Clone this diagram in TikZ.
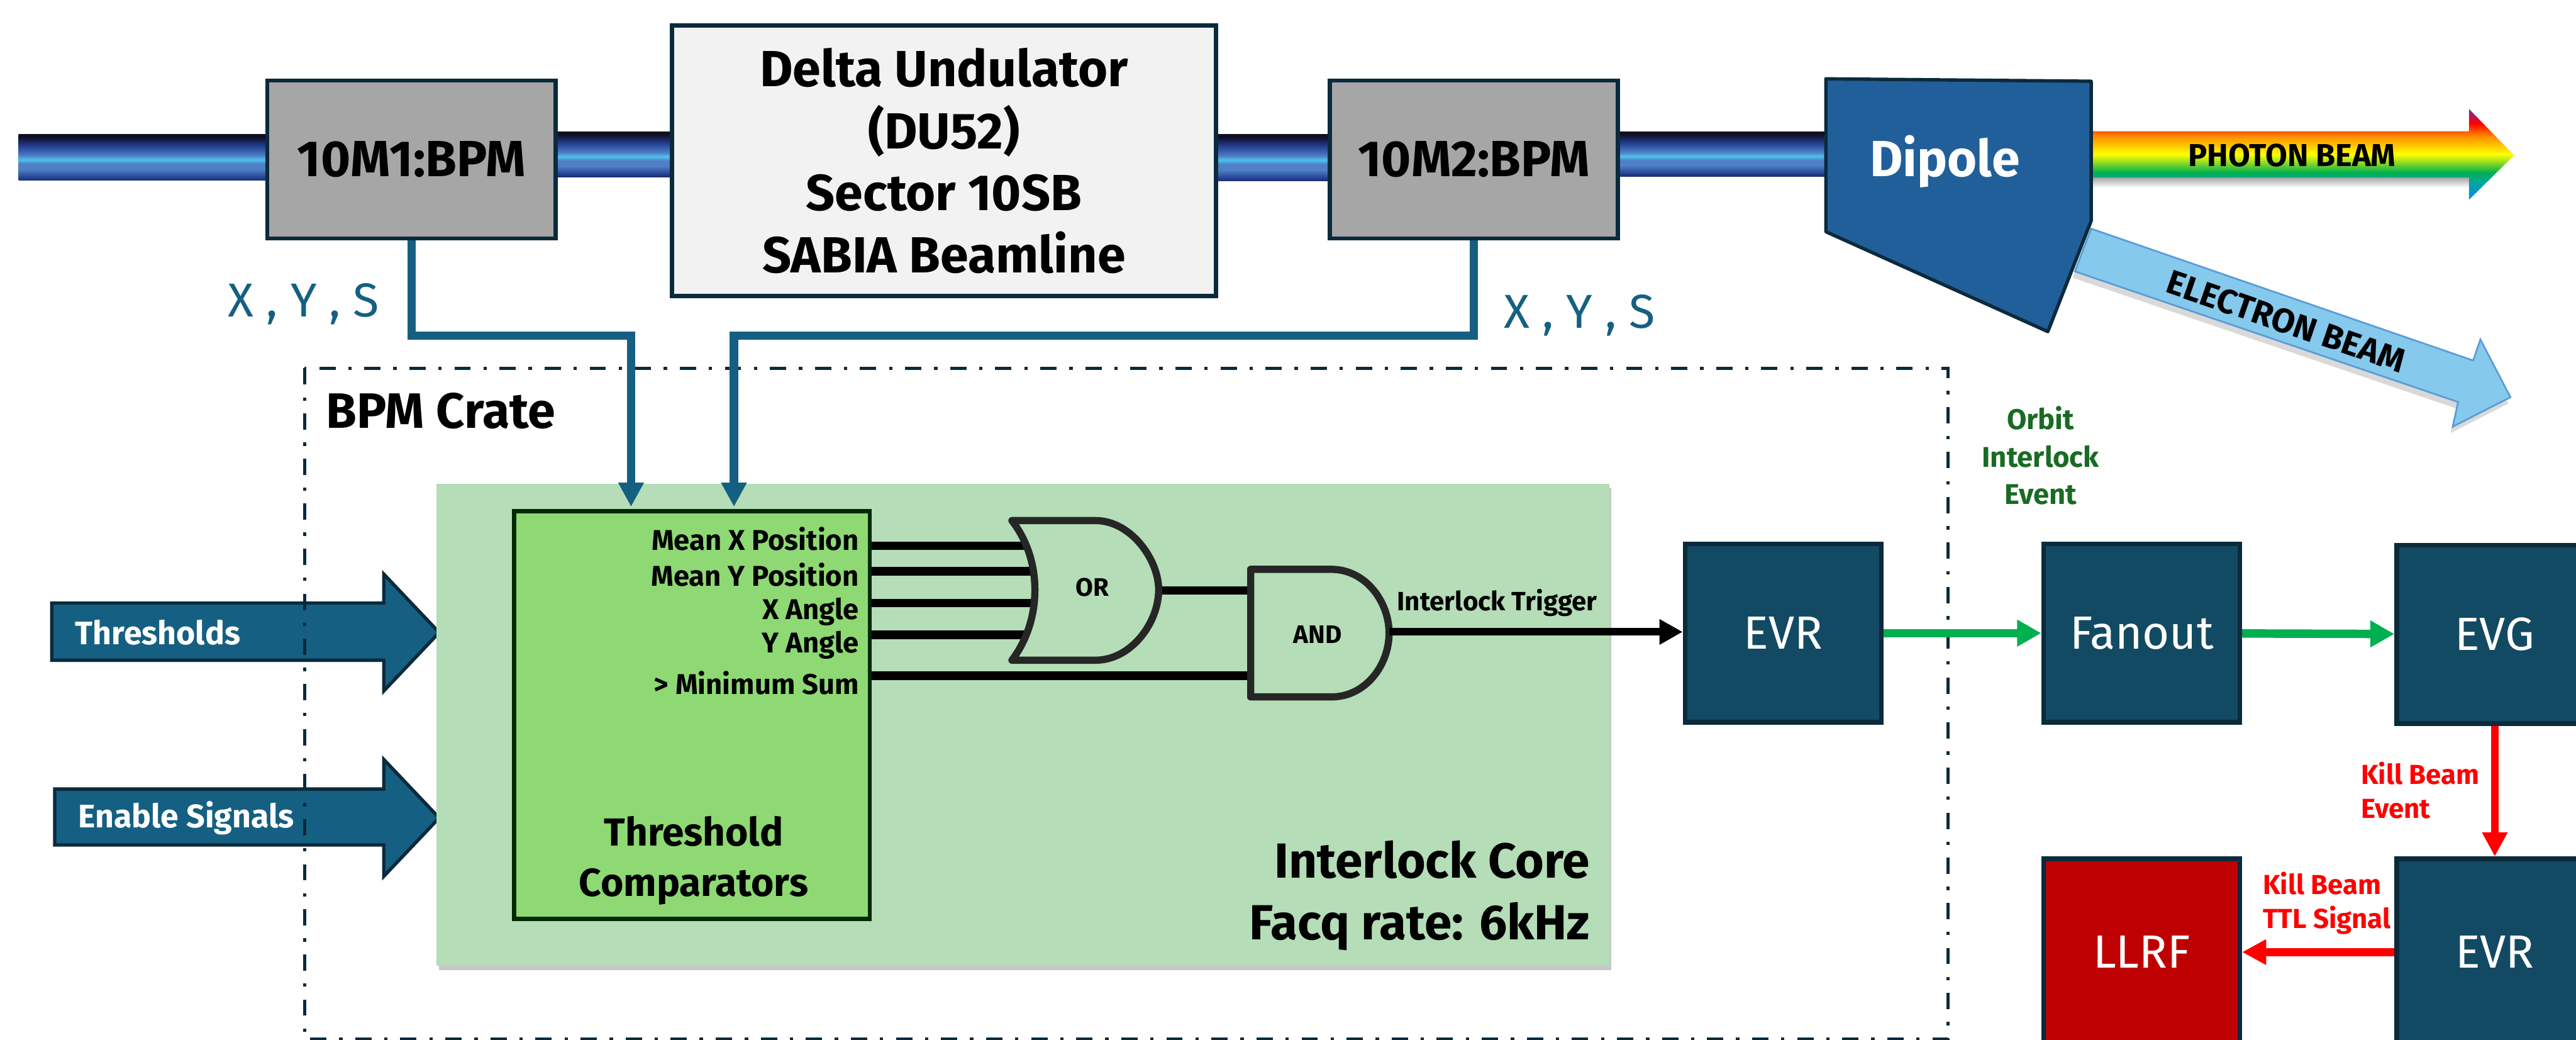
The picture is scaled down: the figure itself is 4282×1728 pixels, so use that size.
\documentclass[tikz,border=0pt]{standalone}
\usepackage{fontspec}
\setmainfont{Fira Sans}
\usetikzlibrary{
  calc,
  arrows.meta,
  positioning,
  shadows,
}
\definecolor{boxedge}{HTML}{0B2A3C}
\definecolor{boxblue}{HTML}{134A63}
\definecolor{sigblue}{HTML}{156082}
\definecolor{panelgreen}{HTML}{B5DDB7}
\definecolor{cmpgreen}{HTML}{8ED973}
\definecolor{eventgreen}{HTML}{00B050}
\definecolor{labelgreen}{HTML}{196B24}
\definecolor{dipoleblue}{HTML}{215F9A}
\definecolor{ebeam}{HTML}{85C9EC}
\definecolor{ebeamedge}{HTML}{5B9BD5}
\definecolor{beama}{HTML}{0F1020}
\definecolor{beamb}{HTML}{1B2C6E}
\definecolor{beamc}{HTML}{2B4C9F}
\definecolor{beamd}{HTML}{4F7FC4}
\definecolor{beame}{HTML}{4CC3F0}
\definecolor{rbviolet}{HTML}{7030A0}
\definecolor{rbred}{HTML}{FF0000}
\definecolor{rborange}{HTML}{FF8C00}
\definecolor{rbyellow}{HTML}{FFFF00}
\definecolor{rbgreen}{HTML}{00B050}
\definecolor{rbteal}{HTML}{00A89A}
\definecolor{rbblue}{HTML}{0090E0}
\pgfdeclareverticalshading{beamshade}{100bp}{
  color(0bp)=(beamb); color(25bp)=(beamb);
  color(30bp)=(beamc); color(37bp)=(beamd); color(43bp)=(beamd);
  color(47.5bp)=(beame); color(52bp)=(beamd); color(60bp)=(beamc);
  color(66bp)=(beamb); color(72bp)=(beama); color(100bp)=(beama)}
\pgfdeclareverticalshading{rainbowshade}{100bp}{
  color(0bp)=(rbblue); color(28bp)=(rbblue);
  color(35bp)=(rbteal); color(40bp)=(rbgreen);
  color(50bp)=(rbyellow); color(60bp)=(rborange);
  color(67bp)=(rbred); color(75bp)=(rbviolet); color(100bp)=(rbviolet)}
\tikzset{
  bpmbox/.style = {draw=boxedge, line width=2pt, fill=black!35,
      minimum width=4.79cm, minimum height=2.62cm,
      font=\fontsize{24}{29}\selectfont\bfseries},
  evbox/.style = {draw=boxedge, line width=2.2pt, fill=boxblue, text=white,
      minimum width=3.26cm, minimum height=2.96cm,
      font=\fontsize{22}{26}\selectfont},
  sig/.style = {draw=sigblue, line width=4pt,
      -{Triangle[length=11.4pt,width=11.4pt]}},
  gate/.style = {draw=black!85, line width=3.4pt, fill=panelgreen, line join=round},
  wire/.style = {draw=black, line width=4pt},
  inarrow/.style = {draw=boxedge, line width=1.6pt, fill=sigblue},
  xys/.style = {text=sigblue, font=\fontsize{22.5}{28}\selectfont},
  cmplabel/.style = {anchor=east, font=\fontsize{13.5}{16}\selectfont\bfseries},
  evarrow/.style = {draw=eventgreen, line width=4pt,
      -{Triangle[length=11.4pt,width=12pt]}},
  killarrow/.style = {draw=red, line width=3.8pt,
      -{Triangle[length=11.4pt,width=11.4pt]}},
  killlabel/.style = {text=red, anchor=west, align=left,
      font=\fontsize{13}{16}\selectfont\bfseries},
}

\begin{document}
\begin{tikzpicture}[x=0.01cm, y=-0.01cm]
  \path[use as bounding box, clip] (0,0) rectangle (4282,1728);

  % beam pipe
  \shade[shading=beamshade] (31,223) rectangle (445,300);
  \shade[shading=beamshade] (925,219) rectangle (1120,294);
  \shade[shading=beamshade] (2023,223) rectangle (2210,301);
  \shade[shading=beamshade] (2690,219) rectangle (3038,293);

  \node[bpmbox] (bpma) at (684,265) {10M1:BPM};
  \node[bpmbox] (bpmb) at (2450,265) {10M2:BPM};
  \node[draw=boxedge, line width=2pt, fill=black!5, minimum width=9.04cm,
    minimum height=4.49cm, align=center,
    font=\fontsize{24}{29.3}\selectfont\bfseries] (undulator) at (1569,267)
    {Delta Undulator\\(DU52)\\Sector 10SB\\SABIA Beamline};

  % outgoing beams
  \draw[draw=ebeamedge, line width=.8pt, fill=ebeam,
    drop shadow={shadow xshift=-1pt, shadow yshift=-3pt, opacity=.3}]
    (3476,380) -- (4111,599) -- (4123,564) -- (4173,660)
    -- (4077,709) -- (4086,668) -- (3449,451) -- cycle;
  \node[rotate=-19, font=\fontsize{16}{19}\selectfont\bfseries] (ebeamtext)
    at (3800,534) {ELECTRON BEAM};
  \shade[top color=black!35, bottom color=white] (3476,295) rectangle (4104,312);
  \shade[shading=rainbowshade] (3476,218) -- (4104,218) -- (4104,181) -- (4179,258)
    -- (4104,332) -- (4104,295) -- (3476,295) -- cycle;
  \node[font=\fontsize{15}{18}\selectfont\bfseries] (pbeamtext) at (3810,258) {PHOTON BEAM};

  \draw[draw=boxedge, line width=1.6pt, fill=dipoleblue, line join=round]
    (3035,131) -- (3476,135) -- (3476,367) -- (3404,551) -- (3035,385) -- cycle;
  \node[text=white, font=\fontsize{24}{28}\selectfont\bfseries] (dipole) at (3233,268) {Dipole};

  % inputs from the left
  \draw[inarrow] (86,1002) -- (638,1002) -- (638,954) -- (730,1051) -- (638,1148)
    -- (638,1097) -- (86,1097) -- cycle;
  \draw[inarrow] (91,1311) -- (638,1311) -- (638,1262) -- (730,1359) -- (638,1456)
    -- (638,1404) -- (91,1404) -- cycle;
  \node[text=white, anchor=west, font=\fontsize{15.4}{19}\selectfont\bfseries] (thr)
    at (113,1051) {Thresholds};
  \node[text=white, anchor=west, font=\fontsize{15.4}{19}\selectfont\bfseries] (ena)
    at (118,1359) {Enable Signals};

  % crate
  \draw[boxedge, line width=1.5pt, dash pattern=on 7.7pt off 6pt on 1.6pt off 6pt]
    (506,612) rectangle (3238,1726);
  \node[anchor=west, font=\fontsize{23.5}{26}\selectfont\bfseries] (crate) at (530,683) {BPM Crate};

  % interlock core
  \fill[panelgreen, drop shadow={shadow xshift=1pt, shadow yshift=-2pt, opacity=.45}]
    (726,804) rectangle (2675,1605);
  \node[anchor=east, align=right, font=\fontsize{23.3}{29.3}\selectfont\bfseries] (core)
    at (2655,1488) {Interlock Core\\Facq rate: 6kHz};

  \node[draw=black!60!green!40!black, line width=2pt, fill=cmpgreen, minimum width=5.91cm,
    minimum height=6.77cm] (cmp) at (1150,1188) {};
  \node[align=center, font=\fontsize{18.5}{23.6}\selectfont\bfseries] (cmptext)
    at (1153,1430) {Threshold\\Comparators};
  \node[cmplabel] (mx) at (1440,895) {Mean X Position};
  \node[cmplabel] (my) at (1440,955) {Mean Y Position};
  \node[cmplabel] (xa) at (1440,1016) {X Angle};
  \node[cmplabel] (ya) at (1440,1072) {Y Angle};
  \node[cmplabel] (ms) at (1440,1135) {> Minimum Sum};

  \coordinate (ina) at (1049,842);
  \coordinate (inb) at (1220,842);
  \draw[sig] (bpma.south) -- ++(0,158) -| (ina);
  \draw[sig] (bpmb.south) -- ++(0,158) -| (inb);

  \node[xys] (xysa) at (505,505) {X , Y , S};
  \node[xys] (xysb) at (2626,524) {X , Y , S};

  % logic
  \coordinate (ora) at (1715,907);
  \coordinate (orb) at (1725,949);
  \coordinate (orc) at (1725,1002);
  \coordinate (ord) at (1715,1055);
  \coordinate (orout) at (1926,981);
  \coordinate (anda) at (2085,981);
  \coordinate (andb) at (2085,1123);
  \coordinate (andout) at (2309,1050);
  \foreach \w in {ora,orb,orc,ord}
    \draw[wire] (cmp.east |- \w) -- (\w);
  \draw[wire] (orout) -- (anda);
  \draw[wire] (cmp.east |- andb) -- (andb);

  \draw[gate] (1682,865) -- (1821,865) .. controls (1880,865) and (1926,930) .. (1926,980)
    .. controls (1926,1035) and (1880,1097) .. (1821,1097) -- (1682,1097)
    .. controls (1733,1030) and (1733,930) .. (1682,865) -- cycle;
  \draw[gate] (2079,946) -- (2213,946) .. controls (2270,946) and (2309,1000) .. (2309,1052)
    .. controls (2309,1105) and (2270,1158) .. (2213,1158) -- (2079,1158) -- cycle;
  \node[font=\fontsize{12}{14}\selectfont\bfseries] (orgate) at (1816,976) {OR};
  \node[font=\fontsize{12}{14}\selectfont\bfseries] (andgate) at (2190,1054) {AND};
  \node[anchor=west, font=\fontsize{12.5}{15}\selectfont\bfseries] (trig) at (2310,1002) {Interlock Trigger};

  % timing system
  \node[evbox] (evra) at (2964,1052) {EVR};
  \node[evbox] (fanout) at (3560,1052) {Fanout};
  \node[evbox] (evg) at (4147,1054) {EVG};
  \node[evbox, minimum height=3.1cm] (evrb) at (4147,1582) {EVR};
  \node[evbox, minimum height=3.1cm, fill=red!75!black] (llrf) at (3560,1582) {LLRF};

  \draw[draw=black, line width=3.6pt, -{Triangle[length=11pt,width=11.4pt]}] (andout) -- (evra.west |- andout);
  \draw[evarrow] (evra) -- (fanout);
  \draw[evarrow] (fanout) -- (evg);
  \draw[killarrow] (evg) -- (evrb);
  \draw[killarrow] (evrb) -- (llrf);

  \node[text=labelgreen, align=center, font=\fontsize{13.5}{17.6}\selectfont\bfseries] (orbit)
    at (3392,757) {Orbit\\Interlock\\Event};
  \node[killlabel] (killa) at (3912,1313) {Kill Beam\\Event};
  \node[killlabel] (killb) at (3749,1501) {Kill Beam\\TTL Signal};
\end{tikzpicture}
\end{document}
